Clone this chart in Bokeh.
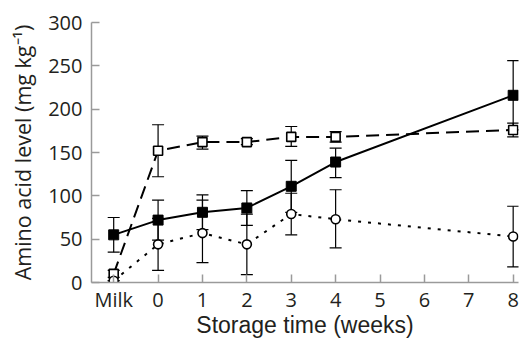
from bokeh.plotting import figure
from bokeh.models import Range1d, FixedTicker
from bokeh.embed import file_html
from bokeh.resources import INLINE

# ---- data ----
tick_positions = [-1, 0, 1, 2, 3, 4, 5, 6, 7, 8]
tick_labels = ["Milk", "0", "1", "2", "3", "4", "5", "6", "7", "8"]
y_ticks = [0, 50, 100, 150, 200, 250, 300]

times = [-1, 0, 1, 2, 3, 4, 8]   # -1 = Milk

filled_vals = [55, 72, 81, 86, 111, 139, 216]
filled_upper = [75, 95, 101, 106, 141, 155, 256]
filled_lower = [35, 49, 61, 66, 81, 121, 176]

open_sq_vals = [10, 152, 162, 162, 168, 168, 176]
open_sq_upper = [14, 182, 169, 166, 180, 174, 184]
open_sq_lower = [6, 122, 154, 159, 157, 162, 168]

circle_vals = [2, 44, 57, 44, 79, 73, 53]
circle_upper = [2, 74, 95, 79, 103, 107, 88]
circle_lower = [2, 14, 23, 9, 55, 40, 18]

p = figure(width=520, height=340, output_backend="svg", toolbar_location=None,
           x_range=Range1d(-1.5, 8.12), y_range=Range1d(0, 300),
           min_border_left=91, min_border_right=2, min_border_top=22,
           min_border_bottom=58)
p.outline_line_color = None
p.grid.visible = False
p.background_fill_color = "white"
p.border_fill_color = "white"

axis_col = "#9a9a9a"
for ax in (p.xaxis[0], p.yaxis[0]):
    ax.axis_line_color = axis_col
    ax.axis_line_width = 1.5
    ax.major_tick_line_color = axis_col
    ax.major_tick_line_width = 1.5
    ax.major_tick_in = 8
    ax.major_tick_out = 0
    ax.minor_tick_line_color = None
    ax.major_label_text_font = "Open Sans"
    ax.major_label_text_font_size = "20px"
    ax.major_label_text_color = "#231f20"
    ax.axis_label_text_font_style = "normal"
    ax.axis_label_text_color = "#231f20"

p.xaxis.ticker = FixedTicker(ticks=tick_positions)
p.xaxis.major_label_overrides = {t: l for t, l in zip(tick_positions, tick_labels)}
p.xaxis.major_label_standoff = 3
p.xaxis.axis_label = "Storage time (weeks)"
p.xaxis.axis_label_text_font = "Liberation Sans"
p.xaxis.axis_label_text_font_size = "23px"
p.xaxis.axis_label_standoff = -4

p.yaxis.ticker = FixedTicker(ticks=y_ticks)
p.yaxis.major_label_standoff = 9
p.yaxis.axis_label = "Amino acid level (mg kg\u207b\u00b9)"
p.yaxis.axis_label_text_font = "Open Sans"
p.yaxis.axis_label_text_font_size = "21.5px"
p.yaxis.axis_label_standoff = 8

# lines
p.line(times, open_sq_vals, line_color="black", line_width=2, line_dash="13 7")
p.line(times, circle_vals, line_color="black", line_width=2, line_dash="3 7")
p.line(times, filled_vals, line_color="black", line_width=2)

# error bars
for up, lo in ((filled_upper, filled_lower), (open_sq_upper, open_sq_lower),
               (circle_upper, circle_lower)):
    p.segment(x0=times, y0=lo, x1=times, y1=up, line_color="black", line_width=1.2)
    p.scatter(times, up, marker="dash", size=12, line_color="black", line_width=1.2)
    p.scatter(times, lo, marker="dash", size=12, line_color="black", line_width=1.2)

# markers
p.scatter(times, open_sq_vals, marker="square", size=9, fill_color="white",
          line_color="black", line_width=1.6)
p.scatter(times, circle_vals, marker="circle", size=9, fill_color="white",
          line_color="black", line_width=1.6)
p.scatter(times, filled_vals, marker="square", size=10, fill_color="black",
          line_color="black", line_width=1)

open("out.html", "w").write(file_html(p, INLINE))
